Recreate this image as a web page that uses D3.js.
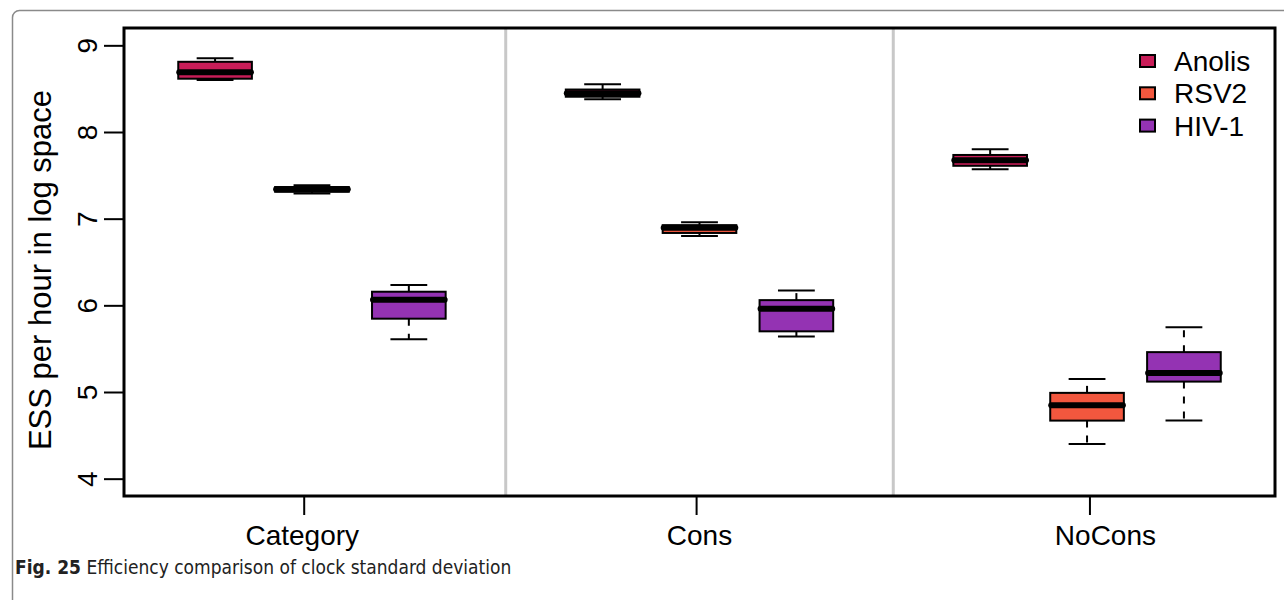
<!DOCTYPE html>
<html>
<head>
<meta charset="utf-8">
<script src="https://cdn.jsdelivr.net/npm/d3@7"></script>
<style>
  html, body { margin: 0; padding: 0; background: #fff; }
  svg { display: block; }
</style>
</head>
<body>
<svg id="chart" width="1284" height="600"></svg>
<script>
// Groups along the x axis and the series drawn inside each group
const groups = ["Category", "Cons", "NoCons"];
const series = ["Anolis", "RSV2", "HIV-1"];
const seriesColors = ["#c81d58", "#f2573e", "#9433b3"];

// Box positions (group-major order: Category, Cons, NoCons; each Anolis, RSV2, HIV-1)
const boxAt = [1, 2, 3, 5, 6, 7, 9, 10, 11];
const separatorAt = [4, 8];
const groupTickAt = [1.92, 5.97, 10.03];
const groupLabelAt = [1.9, 6.0, 10.19];

// Five-number summaries for every box, same order as boxAt
const whiskerLow  = [8.60, 7.29, 5.61,  8.377, 6.80, 5.64,  7.57, 4.40, 4.67];
const quartile1   = [8.615, 7.31, 5.846, 8.407, 6.835, 5.70, 7.61, 4.67, 5.12];
const medians     = [8.69, 7.34, 6.065, 8.446, 6.895, 5.96, 7.673, 4.846, 5.22];
const quartile3   = [8.81, 7.365, 6.157, 8.49, 6.925, 6.06, 7.735, 4.99, 5.46];
const whiskerHigh = [8.85, 7.385, 6.235, 8.55, 6.958, 6.17, 7.80, 5.15, 5.746];

const yTicks = [4, 5, 6, 7, 8, 9];
const yTitle = "ESS per hour in log space";

const boxes = boxAt.map((p, i) => ({
  pos: p,
  color: seriesColors[i % series.length],
  lo: whiskerLow[i], q1: quartile1[i], med: medians[i], q3: quartile3[i], hi: whiskerHigh[i]
}));

const svg = d3.select("#chart");
const font = "'Liberation Sans', Arial, Helvetica, sans-serif";

// Plot region
const plot = { left: 124, top: 28, right: 1275, bottom: 496 };
const x = d3.scaleLinear().domain([0.06, 11.94]).range([plot.left, plot.right]);
const y = d3.scaleLinear().domain([3.8, 9.2]).range([plot.bottom, plot.top]);
const boxWidth = 0.76;
const bw = x(boxWidth) - x(0);

// Figure frame with rounded corner
svg.append("rect")
  .attr("x", 12.5).attr("y", 10.5)
  .attr("width", 1320).attr("height", 640)
  .attr("rx", 7)
  .attr("fill", "none")
  .attr("stroke", "#8a8a8a")
  .attr("stroke-width", 1.5);

// Group separators
svg.append("g").selectAll("line")
  .data(separatorAt)
  .join("line")
  .attr("x1", d => x(d)).attr("x2", d => x(d))
  .attr("y1", plot.top).attr("y2", plot.bottom)
  .attr("stroke", "#c8c8c8")
  .attr("stroke-width", 3);

// Boxes
const bg = svg.append("g").selectAll("g")
  .data(boxes)
  .join("g");

// whiskers, dashed from the box edge outwards
bg.append("line")
  .attr("x1", d => x(d.pos)).attr("x2", d => x(d.pos))
  .attr("y1", d => y(d.q3)).attr("y2", d => y(d.hi))
  .attr("stroke", "#000").attr("stroke-width", 2)
  .attr("stroke-dasharray", "7,8");
bg.append("line")
  .attr("x1", d => x(d.pos)).attr("x2", d => x(d.pos))
  .attr("y1", d => y(d.q1)).attr("y2", d => y(d.lo))
  .attr("stroke", "#000").attr("stroke-width", 2)
  .attr("stroke-dasharray", "7,8");

// staples
bg.append("line")
  .attr("x1", d => x(d.pos) - bw / 4).attr("x2", d => x(d.pos) + bw / 4)
  .attr("y1", d => y(d.hi)).attr("y2", d => y(d.hi))
  .attr("stroke", "#000").attr("stroke-width", 2);
bg.append("line")
  .attr("x1", d => x(d.pos) - bw / 4).attr("x2", d => x(d.pos) + bw / 4)
  .attr("y1", d => y(d.lo)).attr("y2", d => y(d.lo))
  .attr("stroke", "#000").attr("stroke-width", 2);

// box body
bg.append("rect")
  .attr("x", d => x(d.pos) - bw / 2)
  .attr("width", bw)
  .attr("y", d => y(d.q3))
  .attr("height", d => y(d.q1) - y(d.q3))
  .attr("fill", d => d.color)
  .attr("stroke", "#000").attr("stroke-width", 2);

// median
bg.append("line")
  .attr("x1", d => x(d.pos) - bw / 2 + 1).attr("x2", d => x(d.pos) + bw / 2 - 1)
  .attr("y1", d => y(d.med)).attr("y2", d => y(d.med))
  .attr("stroke", "#000").attr("stroke-width", 6)
  .attr("stroke-linecap", "round");

// Plot frame
svg.append("rect")
  .attr("x", plot.left).attr("y", plot.top)
  .attr("width", plot.right - plot.left).attr("height", plot.bottom - plot.top)
  .attr("fill", "none")
  .attr("stroke", "#000")
  .attr("stroke-width", 3);

// Y axis
const yAxis = d3.axisLeft(y).tickValues(yTicks).tickSize(20).tickPadding(8).tickFormat(d3.format("d"));
const gy = svg.append("g").attr("transform", `translate(${plot.left},0)`).call(yAxis);
gy.select(".domain").remove();
gy.selectAll(".tick line").attr("stroke", "#000").attr("stroke-width", 2);
gy.selectAll(".tick text")
  .attr("font-family", font).attr("font-size", 28).attr("fill", "#000")
  .attr("text-anchor", "middle")
  .attr("x", null).attr("dy", null)
  .attr("transform", "translate(-27,0) rotate(-90)");

// X axis: ticks and group labels
const gx = svg.append("g");
gx.selectAll("line")
  .data(groupTickAt)
  .join("line")
  .attr("x1", d => x(d)).attr("x2", d => x(d))
  .attr("y1", plot.bottom).attr("y2", plot.bottom + 19)
  .attr("stroke", "#000").attr("stroke-width", 2);
gx.selectAll("text")
  .data(groups)
  .join("text")
  .attr("x", (d, i) => x(groupLabelAt[i]))
  .attr("y", 545)
  .attr("text-anchor", "middle")
  .attr("font-family", font).attr("font-size", 28)
  .text(d => d);

// Y title
svg.append("text")
  .attr("transform", `translate(51,270) rotate(-90)`)
  .attr("text-anchor", "middle")
  .attr("font-family", font).attr("font-size", 31)
  .text(yTitle);

// Legend
const lg = svg.append("g").selectAll("g")
  .data(series)
  .join("g")
  .attr("transform", (d, i) => `translate(1140,${61 + i * 32.3})`);
lg.append("rect")
  .attr("x", 0).attr("y", -6).attr("width", 15).attr("height", 12)
  .attr("fill", (d, i) => seriesColors[i])
  .attr("stroke", "#000").attr("stroke-width", 2);
lg.append("text")
  .attr("x", 34).attr("y", 10)
  .attr("font-family", font).attr("font-size", 28)
  .text(d => d);

// Caption
const cap = svg.append("text")
  .attr("x", 15).attr("y", 574)
  .attr("font-family", "'Liberation Sans Narrow', 'DejaVu Sans Condensed', 'Open Sans', sans-serif")
  .attr("font-size", 19)
  .attr("fill", "#222");
cap.append("tspan").attr("font-weight", "bold").text("Fig. 25");
cap.append("tspan").text(" Efficiency comparison of clock standard deviation");
</script>
</body>
</html>
